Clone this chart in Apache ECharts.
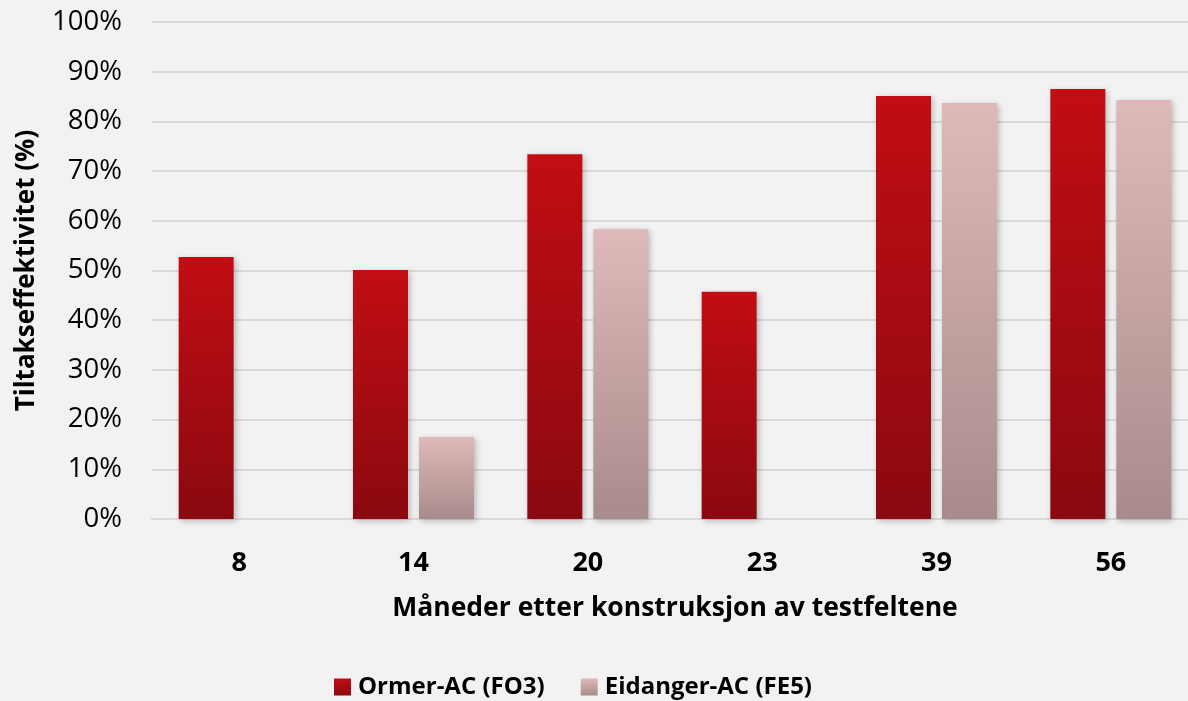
<!DOCTYPE html>
<html>
<head>
<meta charset="utf-8">
<script src="https://cdn.jsdelivr.net/npm/echarts@6/dist/echarts.min.js"></script>
<style>
  html, body { margin: 0; padding: 0; background: #f2f2f2; }
  #chart { width: 1188px; height: 701px; }
</style>
</head>
<body>
<div id="chart"></div>
<script>
// Months after construction of the test fields
const categories = ['8', '14', '20', '23', '39', '56'];
// Measure effectiveness (%) per test field
const ormerValues = [52.7, 50.1, 73.4, 45.7, 85.1, 86.5];
const eidangerValues = [null, 16.5, 58.3, null, 83.7, 84.3];
const seriesNames = ['Ormer-AC (FO3)', 'Eidanger-AC (FE5)'];

const FONT = '"Open Sans", "Noto Sans", sans-serif';

function vGrad(top, bottom) {
  return new echarts.graphic.LinearGradient(0, 0, 0, 1, [
    { offset: 0, color: top },
    { offset: 1, color: bottom }
  ]);
}

const chart = echarts.init(document.getElementById('chart'), null, { renderer: 'canvas' });

chart.setOption({
  backgroundColor: '#f2f2f2',
  animation: false,
  // plot area runs slightly past the right edge of the canvas
  grid: {
    left: 152, width: 1046, top: 22, height: 497,
    containLabel: false, outerBoundsMode: 'none'
  },
  legend: {
    top: 670,
    left: 329,
    icon: 'rect',
    itemWidth: 17,
    itemHeight: 17,
    itemGap: 36,
    textStyle: {
      fontFamily: FONT, fontSize: 24, fontWeight: 'bold', color: '#000',
      padding: [0, 0, 0, 2]
    },
    data: seriesNames
  },
  xAxis: {
    type: 'category',
    data: categories,
    name: 'Måneder etter konstruksjon av testfeltene',
    nameLocation: 'middle',
    nameGap: 76,
    nameTextStyle: { fontFamily: FONT, fontSize: 26.5, fontWeight: 'bold', color: '#000' },
    axisLine: { lineStyle: { color: '#d9d9d9', width: 2 } },
    axisTick: { show: false },
    axisLabel: { fontFamily: FONT, fontSize: 27, fontWeight: 'bold', color: '#000', margin: 31 }
  },
  yAxis: {
    type: 'value',
    min: 0,
    max: 100,
    interval: 10,
    name: 'Tiltakseffektivitet (%)',
    nameLocation: 'middle',
    nameGap: 112,
    nameTextStyle: { fontFamily: FONT, fontSize: 26, fontWeight: 'bold', color: '#000' },
    axisLine: { show: false },
    axisTick: { show: false },
    splitLine: { lineStyle: { color: '#d9d9d9', width: 2 } },
    axisLabel: {
      fontFamily: FONT, fontSize: 27.5, color: '#000', margin: 30,
      formatter: v => v + '%'
    }
  },
  series: [
    {
      name: seriesNames[0],
      type: 'bar',
      data: ormerValues,
      barWidth: 55,
      barGap: '20%',
      itemStyle: {
        color: vGrad('#c20d14', '#8a090f'),
        shadowColor: 'rgba(0,0,0,0.25)',
        shadowBlur: 6,
        shadowOffsetX: 2,
        shadowOffsetY: 2
      }
    },
    {
      name: seriesNames[1],
      type: 'bar',
      data: eidangerValues,
      barWidth: 55,
      barGap: '20%',
      itemStyle: {
        color: vGrad('#dfb9b9', '#a98b8b'),
        shadowColor: 'rgba(0,0,0,0.25)',
        shadowBlur: 6,
        shadowOffsetX: 2,
        shadowOffsetY: 2
      }
    }
  ]
});
</script>
</body>
</html>
